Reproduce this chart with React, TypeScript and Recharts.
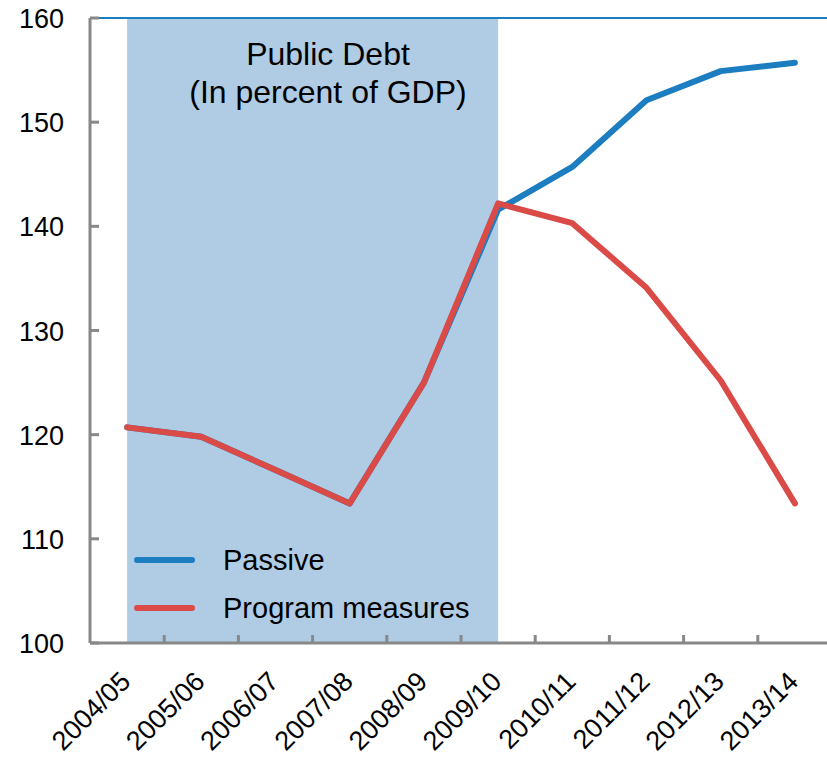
import React from "react";
import { Line, LineChart, ReferenceArea, ReferenceLine, XAxis, YAxis, Legend } from "recharts";

const years = ["2004/05", "2005/06", "2006/07", "2007/08", "2008/09", "2009/10", "2010/11", "2011/12", "2012/13", "2013/14"];
const passive = [120.7, 119.8, 116.6, 113.4, 125.0, 141.6, 145.7, 152.1, 154.9, 155.7];
const program = [120.7, 119.8, 116.6, 113.4, 125.0, 142.2, 140.3, 134.1, 125.2, 113.4];
const yTicks = [100, 110, 120, 130, 140, 150, 160];
const shadeFrom = "2004/05";
const shadeTo = "2009/10";

const data = years.map((year, i) => ({ idx: i, year, passive: passive[i], program: program[i] }));
// labels sit on the category centres, tick marks on the boundaries between them
const xTicks = years.flatMap((_, i) => (i === 0 ? [i] : [i - 0.5, i]));

const FONT = "'Liberation Sans', Arial, sans-serif";
const GRAY = "#888888";
const BLUE = "#1c7dc1";
const RED = "#da4a47";
const X_MARGIN = 40;
const Y_MARGIN = 26;

const YTick = ({ x, y, payload }: any) => (
  <g>
    <line x1={x + Y_MARGIN} x2={x + Y_MARGIN + 9} y1={y} y2={y} stroke={GRAY} strokeWidth={3} />
    <text x={x} y={y} dy={10} textAnchor="end" fontSize={27} fontFamily={FONT} fill="#000">
      {payload.value}
    </text>
  </g>
);

const XTick = ({ x, y, payload }: any) => {
  if (!Number.isInteger(payload.value)) {
    return <line x1={x} x2={x} y1={y - X_MARGIN} y2={y - X_MARGIN - 8} stroke={GRAY} strokeWidth={3} />;
  }
  return (
    <g transform={`translate(${x + 5},${y})`}>
      <text x={0} y={0} textAnchor="end" transform="rotate(-45)" fontSize={27} fontFamily={FONT} fill="#000">
        {years[payload.value]}
      </text>
    </g>
  );
};

const LegendBox = ({ payload }: any) => (
  <div style={{ fontFamily: FONT, fontSize: 29, color: "#000" }}>
    {(payload || []).map((p: any) => (
      <div key={p.value} style={{ display: "flex", alignItems: "center", height: 48 }}>
        <div style={{ width: 61, height: 6, borderRadius: 3, background: p.color, marginRight: 28 }} />
        <span>{p.value}</span>
      </div>
    ))}
  </div>
);

export default function App() {
  return (
    <div style={{ position: "absolute", left: 0, top: 0, width: 827, height: 758, overflow: "hidden" }}>
      <LineChart width={835} height={758} data={data} margin={{ top: 18, right: 3, left: 0, bottom: 0 }}>
        <ReferenceArea
          x1={years.indexOf(shadeFrom)}
          x2={years.indexOf(shadeTo)}
          y1={100}
          y2={160}
          fill="#b0cce4"
          fillOpacity={1}
          stroke="none"
        />
        <ReferenceLine y={160} stroke={BLUE} strokeWidth={2} />
        <XAxis
          dataKey="idx"
          type="number"
          domain={[-0.5, 9.5]}
          ticks={xTicks}
          height={115}
          axisLine={{ stroke: GRAY, strokeWidth: 3 }}
          tickLine={false}
          tickSize={0}
          tickMargin={X_MARGIN}
          tick={<XTick />}
          interval={0}
        />
        <YAxis
          domain={[100, 160]}
          ticks={yTicks}
          width={90}
          axisLine={{ stroke: GRAY, strokeWidth: 3 }}
          tickLine={false}
          tickSize={0}
          tickMargin={Y_MARGIN}
          tick={<YTick />}
          interval={0}
        />
        <Legend
          layout="vertical"
          align="center"
          verticalAlign="middle"
          content={<LegendBox />}
          wrapperStyle={{ left: 134, top: 536, width: 400 }}
        />
        <Line
          dataKey="passive"
          name="Passive"
          stroke={BLUE}
          strokeWidth={6}
          dot={false}
          strokeLinejoin="round"
          strokeLinecap="round"
          isAnimationActive={false}
        />
        <Line
          dataKey="program"
          name="Program measures"
          stroke={RED}
          strokeWidth={6}
          dot={false}
          strokeLinejoin="round"
          strokeLinecap="round"
          isAnimationActive={false}
        />
      </LineChart>
      <div
        style={{
          position: "absolute",
          left: 128,
          top: 35,
          width: 400,
          textAlign: "center",
          fontFamily: FONT,
          fontSize: 32,
          lineHeight: "38px",
          color: "#000",
        }}
      >
        Public Debt
        <br />
        (In percent of GDP)
      </div>
    </div>
  );
}
